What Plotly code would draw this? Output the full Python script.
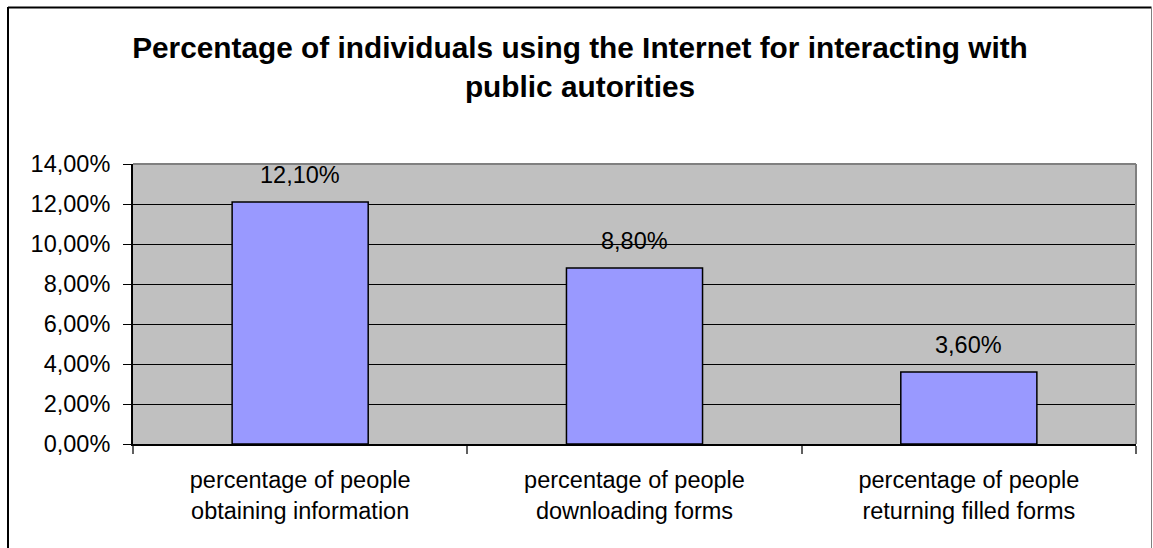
import plotly.graph_objects as go

categories = ["percentage of people<br>obtaining information",
              "percentage of people<br>downloading forms",
              "percentage of people<br>returning filled forms"]
values = [12.10, 8.80, 3.60]
y_ticks = [0, 2, 4, 6, 8, 10, 12, 14]
y_tick_labels = ["0,00%", "2,00%", "4,00%", "6,00%", "8,00%", "10,00%", "12,00%", "14,00%"]
title_text = "Percentage of individuals using the Internet for interacting with<br>public autorities"

W, H = 1153, 548
L, R, T, B = 133, 1136, 164, 444

FONT = "Liberation Sans, Arial, sans-serif"
FS = 23.5

fig = go.Figure()
fig.add_trace(go.Bar(
    x=categories, y=values,
    marker=dict(color="#9999FF", line=dict(color="black", width=1.5)),
    hoverinfo="skip",
))

for c, v in zip(categories, values):
    fig.add_annotation(x=c, y=v, text=f"{v:.2f}%".replace(".", ","),
                       showarrow=False, yanchor="bottom", yshift=12,
                       font=dict(family=FONT, size=FS, color="black"))

def px(x):
    return (x - L) / (R - L)

def py(y):
    return (B - y) / (B - T)

shapes = [
    dict(type="line", xref="paper", yref="paper", x0=0, x1=1, y0=1, y1=1,
         line=dict(color="#808080", width=2)),
    dict(type="line", xref="paper", yref="paper", x0=1, x1=1, y0=0, y1=1,
         line=dict(color="#808080", width=2)),
    dict(type="line", xref="paper", yref="paper", x0=px(8), x1=px(8), y0=py(7), y1=py(560),
         line=dict(color="black", width=2)),
    dict(type="line", xref="paper", yref="paper", x0=px(8), x1=px(1151.5), y0=py(7.5), y1=py(7.5),
         line=dict(color="black", width=2)),
    dict(type="line", xref="paper", yref="paper", x0=px(1151.5), x1=px(1151.5), y0=py(7.5), y1=py(560),
         line=dict(color="#808080", width=1)),
]

fig.update_layout(
    width=W, height=H,
    margin=dict(l=L, r=W - R, t=T, b=H - B, pad=0),
    paper_bgcolor="white",
    plot_bgcolor="#C0C0C0",
    showlegend=False,
    bargap=0.593,
    font=dict(family=FONT, size=FS, color="black"),
    title=dict(text=f"<b>{title_text}</b>", x=580 / W, xanchor="center", xref="container",
               y=1 - 58 / H, yanchor="top", yref="container",
               font=dict(family=FONT, size=29.8, color="black")),
    shapes=shapes,
    xaxis=dict(
        showline=True, linecolor="black", linewidth=2,
        ticks="outside", tickson="boundaries", ticklen=8, tickcolor="#606060", tickwidth=2,
        showgrid=False, ticklabelstandoff=14,
        tickfont=dict(family=FONT, size=FS, color="black"),
    ),
    yaxis=dict(
        range=[0, 14], tickvals=y_ticks, ticktext=y_tick_labels,
        showline=True, linecolor="black", linewidth=2,
        ticks="outside", ticklen=8, tickcolor="black", tickwidth=1,
        showgrid=True, gridcolor="black", gridwidth=1, zeroline=False,
        ticklabelstandoff=8,
        tickfont=dict(family=FONT, size=FS, color="black"),
    ),
)

fig.write_html("out.html")
